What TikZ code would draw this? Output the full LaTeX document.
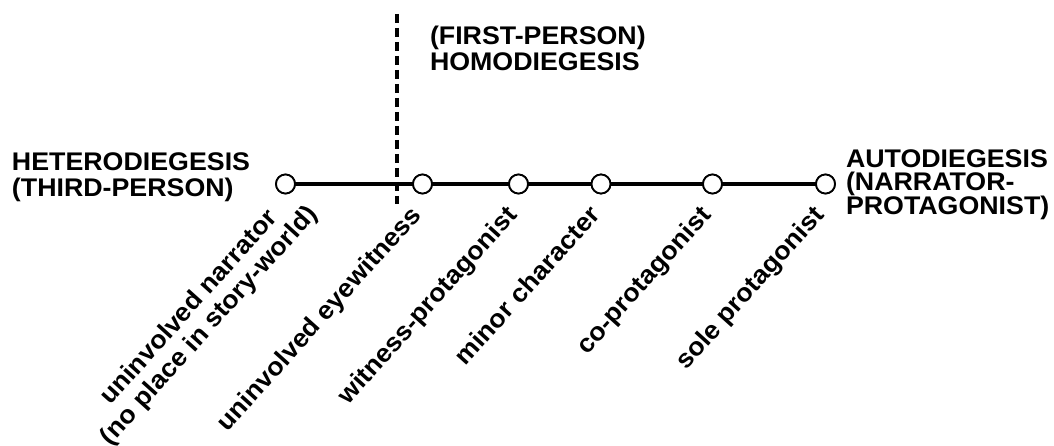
\documentclass[tikz,border=0pt]{standalone}
\usepackage{fontspec}
\setmainfont[FakeStretch=1.05]{Liberation Sans}
\usetikzlibrary{calc}
\begin{document}
\begin{tikzpicture}[x=1pt,y=1pt,
  every node/.style={inner sep=0pt,outer sep=0pt},
  heading/.style={font=\bfseries\fontsize{25.5}{26.7}\selectfont,align=left,anchor=base west},
  stop/.style={circle,draw=black,line width=1.8pt,fill=white,minimum size=19pt},
  lab/.style={font=\bfseries\fontsize{25.5}{27}\selectfont,rotate=48,anchor=base east,align=center},
  scale line/.style={line width=3.4pt},
  divider/.style={line width=3.2pt,dash pattern=on 9pt off 5pt}]
\useasboundingbox (0,0) rectangle (1054,446);

% stops along the scale
\node[stop] (c1) at (285.5,262) {};
\node[stop] (c2) at (422.5,262) {};
\node[stop] (c3) at (518.5,262) {};
\node[stop] (c4) at (601,262) {};
\node[stop] (c5) at (712.5,262) {};
\node[stop] (c6) at (825.5,262) {};

% the scale, joining the stops
\draw[scale line] (c1) -- (c2) -- (c3) -- (c4) -- (c5) -- (c6);

% boundary between hetero- and homodiegesis
\coordinate (dtop) at (397,432);
\coordinate (dbot) at (397,242);
\draw[divider] (dtop) -- (dbot);

% redraw the stops on top of the lines
\foreach \c in {c1,c2,c3,c4,c5,c6}
  \draw[line width=1.8pt,fill=white] (\c) circle (9.5pt);

% headings (base anchor = baseline of the last line)
\node[heading] (hetero) at (12,249) {HETERODIEGESIS\\(THIRD-PERSON)};
\node[heading,font=\bfseries\fontsize{25.5}{25.7}\selectfont] (homo) at (430,375.3) {(FIRST-PERSON)\\HOMODIEGESIS};
\node[heading,font=\bfseries\fontsize{25.5}{23}\selectfont] (auto) at (846,231) {AUTODIEGESIS\\(NARRATOR-\\PROTAGONIST)};

% positions on the scale
\node[lab] (l1) at ($(c1)+(33,-31)$) {uninvolved narrator\\(no place in story-world)};
\node[lab] (l2) at ($(c2)+(0,-32)$) {uninvolved eyewitness};
\node[lab] (l3) at ($(c3)+(0,-32)$) {witness-protagonist};
\node[lab] (l4) at ($(c4)+(0,-32)$) {minor character};
\node[lab] (l5) at ($(c5)+(0,-32)$) {co-protagonist};
\node[lab] (l6) at ($(c6)+(0,-32)$) {sole protagonist};
\end{tikzpicture}
\end{document}
